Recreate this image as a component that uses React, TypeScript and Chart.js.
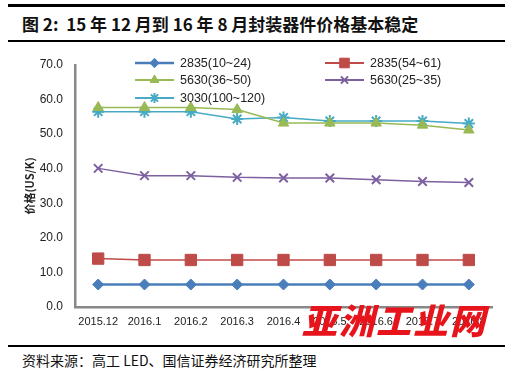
import React, { useEffect, useRef } from "react";
import { Chart, registerables } from "chart.js";
import { drawPoint } from "chart.js/helpers";

Chart.register(...registerables);

const categories = ["2015.12", "2016.1", "2016.2", "2016.3", "2016.4", "2016.5", "2016.6", "2016.7", "2016.8"];
const s2835a = [6.5, 6.5, 6.5, 6.5, 6.5, 6.5, 6.5, 6.5, 6.5];
const s2835b = [14.0, 13.6, 13.6, 13.6, 13.6, 13.6, 13.6, 13.6, 13.6];
const s5630a = [57.7, 57.7, 57.7, 57.1, 53.2, 53.2, 53.2, 52.6, 51.2];
const s5630b = [40.1, 38.0, 38.0, 37.5, 37.3, 37.3, 36.8, 36.3, 36.0];
const s3030 = [56.5, 56.5, 56.5, 54.4, 54.8, 53.8, 53.8, 53.8, 53.1];
const seriesNames = ["2835(10~24)", "2835(54~61)", "5630(36~50)", "5630(25~35)", "3030(100~120)"];
const yTicks = [0, 10, 20, 30, 40, 50, 60, 70];

const colors = ["#4A7EBB", "#BE4B48", "#98B954", "#7D60A0", "#46AAC5"];
const styles = ["rectRot", "rect", "triangle", "crossRot", "star"];
const radii = [5.5, 8, 6, 6, 6];
const widths = [2.5, 1.5, 1.5, 1.5, 1.5];

// legend slot positions (canvas coords): [lineStart, lineEnd, textX, y]
const legendSlots = [
  [135, 174, 180, 18],
  [325, 364, 370, 18],
  [135, 174, 180, 35],
  [325, 364, 370, 35],
  [135, 174, 180, 53],
];

const legendPlugin = {
  id: "customLegend",
  afterDraw(chart: any) {
    const ctx = chart.ctx;
    chart.data.datasets.forEach((ds: any, i: number) => {
      const [x1, x2, tx, y] = legendSlots[i];
      ctx.save();
      ctx.strokeStyle = ds.borderColor;
      ctx.lineWidth = i === 0 ? 2.5 : 2;
      ctx.beginPath();
      ctx.moveTo(x1, y);
      ctx.lineTo(x2, y);
      ctx.stroke();
      ctx.fillStyle = ds.pointBackgroundColor;
      ctx.strokeStyle = ds.pointBorderColor;
      ctx.lineWidth = ds.pointBorderWidth;
      drawPoint(ctx, { pointStyle: ds.pointStyle, radius: ds.pointRadius * 0.85, rotation: 0, borderWidth: ds.pointBorderWidth }, (x1 + x2) / 2, y);
      ctx.fillStyle = "#222";
      ctx.font = "12.5px 'Liberation Sans', Arial, sans-serif";
      ctx.textBaseline = "middle";
      ctx.textAlign = "left";
      ctx.fillText(ds.label, tx, y + 1);
      ctx.restore();
    });
  },
};

export default function App() {
  const ref = useRef<HTMLCanvasElement>(null);
  useEffect(() => {
    const all = [s2835a, s2835b, s5630a, s5630b, s3030];
    const chart = new Chart(ref.current!, {
      type: "line",
      data: {
        labels: categories,
        datasets: all.map((d, i) => ({
          label: seriesNames[i],
          data: d,
          borderColor: colors[i],
          backgroundColor: colors[i],
          borderWidth: widths[i],
          pointStyle: styles[i] as any,
          pointRadius: radii[i],
          pointBackgroundColor: colors[i],
          pointBorderColor: colors[i],
          pointBorderWidth: i >= 3 ? 2 : 1,
          tension: 0,
          fill: false,
        })),
      },
      options: {
        responsive: false,
        animation: false,
        events: [],
        layout: { padding: { left: 0, right: 18, top: 20, bottom: 0 } },
        plugins: { legend: { display: false }, tooltip: { enabled: false } },
        scales: {
          x: {
            type: "category",
            offset: true,
            grid: { display: false, drawTicks: false },
            border: { display: true, color: "#888888", width: 2.5 },
            ticks: {
              color: "#222",
              font: { family: "'Liberation Sans', Arial, sans-serif", size: 11 },
              padding: 8,
              maxRotation: 0,
              autoSkip: false,
            },
            afterFit: (s: any) => { s.height = 33; },
          },
          y: {
            min: 0,
            max: 70,
            afterBuildTicks: (s: any) => { s.ticks = yTicks.map((v) => ({ value: v })); },
            grid: { display: false, drawTicks: false },
            border: { display: true, color: "#888888", width: 2.5 },
            ticks: {
              color: "#222",
              font: { family: "'Liberation Sans', Arial, sans-serif", size: 12 },
              padding: 12,
              callback: (v: any) => Number(v).toFixed(1),
            },
            title: {
              display: true,
              text: "价格(US/K)",
              color: "#222",
              font: { family: "'Noto Sans CJK SC', sans-serif", size: 11, weight: "bold" },
              padding: { top: 23, bottom: 0 },
            },
            afterFit: (s: any) => { s.width = 75; },
          },
        },
      },
      plugins: [legendPlugin],
    });
    return () => chart.destroy();
  }, []);

  return (
    <div style={{ position: "absolute", left: 0, top: 0, width: 510, height: 374, background: "#fff", overflow: "hidden" }}>
      <div style={{ position: "absolute", left: 8, top: 4, width: 497, height: 2.5, background: "#000" }} />
      <div
        style={{
          position: "absolute",
          left: 22,
          top: 12,
          fontFamily: "'Noto Sans CJK SC', 'Liberation Sans', sans-serif",
          fontWeight: "bold",
          fontSize: 17,
          lineHeight: "24px",
          color: "#111",
          whiteSpace: "pre",
        }}
      >
        {"图 2:  15 年 12 月到 16 年 8 月封装器件价格基本稳定"}
      </div>
      <div style={{ position: "absolute", left: 8, top: 40, width: 497, height: 1.5, background: "#000" }} />
      <canvas ref={ref} width={510} height={295} style={{ position: "absolute", left: 0, top: 45, width: 510, height: 295 }} />
      <div
        style={{
          position: "absolute",
          left: 302,
          top: 298,
          fontFamily: "'Noto Sans CJK SC', sans-serif",
          fontWeight: 900,
          fontStyle: "italic",
          fontSize: 35,
          lineHeight: "42px",
          color: "#E8141B",
          whiteSpace: "pre",
          letterSpacing: 2,
        }}
      >
        亚洲工业网
      </div>
      <div style={{ position: "absolute", left: 8, top: 345, width: 497, height: 2, background: "#000" }} />
      <div
        style={{
          position: "absolute",
          left: 22,
          top: 350,
          fontFamily: "'Noto Sans CJK SC', serif",
          fontSize: 14,
          lineHeight: "20px",
          color: "#111",
          whiteSpace: "pre",
        }}
      >
        资料来源：高工 LED、国信证券经济研究所整理
      </div>
    </div>
  );
}
